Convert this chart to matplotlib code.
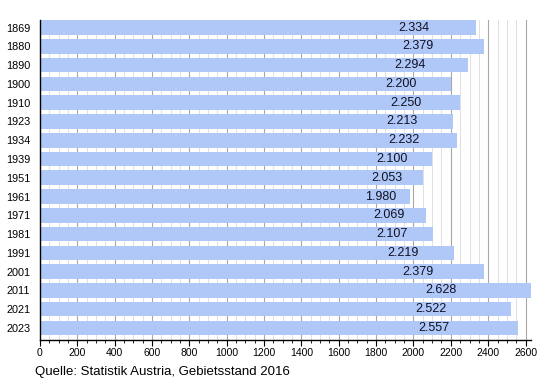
#!/usr/bin/env python

import matplotlib
matplotlib.use("Agg")
from matplotlib import pyplot as plt
from matplotlib.ticker import MultipleLocator

years = ["1869", "1880", "1890", "1900", "1910", "1923", "1934", "1939", "1951",
         "1961", "1971", "1981", "1991", "2001", "2011", "2021", "2023"]
population = [2334, 2379, 2294, 2200, 2250, 2213, 2232, 2100, 2053,
              1980, 2069, 2107, 2219, 2379, 2628, 2522, 2557]
source = "Quelle: Statistik Austria, Gebietsstand 2016"

plt.rcParams['font.family'] = ['Liberation Sans', 'DejaVu Sans']

fig = plt.figure(figsize=(5.5, 3.8), dpi=100)
ax = fig.add_axes([0.0727, 0.105, 0.893, 0.842])

pos = list(range(len(years)))
ax.barh(pos, population, height=0.78, color='#b0c8f8', zorder=2)

# value labels sit in the middle of the bar's right part, like the original
for y, v in zip(pos, population):
    label = "{:,}".format(v).replace(",", ".")
    ax.text((v + 1665) / 2.0, y, label, ha='center', va='center',
            fontsize=9, color='#111122', zorder=3)

ax.set_yticks(pos)
ax.set_yticklabels(years, fontsize=7.8)
ax.set_ylim(16.65, -0.4)
ax.set_xlim(0, 2630)

ax.xaxis.set_major_locator(MultipleLocator(200))
ax.xaxis.set_minor_locator(MultipleLocator(50))
ax.tick_params(axis='x', which='major', labelsize=7.5, length=4, width=0.8, pad=2)
ax.tick_params(axis='x', which='minor', length=2, width=0.6)
ax.tick_params(axis='y', length=0, pad=7)

ax.grid(axis='x', which='major', color='#a8a8a8', linewidth=0.8, zorder=0)
ax.grid(axis='x', which='minor', color='#e0e0e0', linewidth=0.7, zorder=0)
ax.set_axisbelow(True)

for side in ['top', 'right']:
    ax.spines[side].set_visible(False)
ax.spines['left'].set_linewidth(1.0)
ax.spines['bottom'].set_linewidth(1.0)

fig.text(0.064, 0.006, source, fontsize=9.5, ha='left', va='bottom')

fig.savefig("out.png", dpi=100)
